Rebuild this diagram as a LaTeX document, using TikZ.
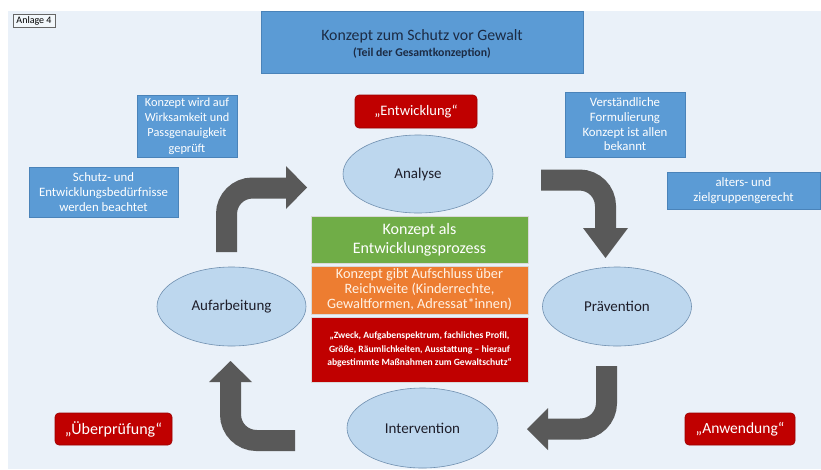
\documentclass[tikz,border=0pt]{standalone}
\usepackage{fontspec}
\setmainfont{Carlito}
\usetikzlibrary{shapes.geometric}
\definecolor{bgc}{HTML}{EAF1F9}
\definecolor{bluebox}{HTML}{5B9BD5}
\definecolor{blueedge}{HTML}{4A83B9}
\definecolor{ellfill}{HTML}{BDD7EE}
\definecolor{elledge}{HTML}{6F8FAF}
\definecolor{greenbox}{HTML}{70AD47}
\definecolor{orangebox}{HTML}{ED7D31}
\definecolor{redbox}{HTML}{C00000}
\definecolor{arrowc}{HTML}{595959}
\definecolor{txtdark}{HTML}{1E1E2A}
\definecolor{titletxt}{HTML}{1C2B44}
\tikzset{
  bluenote/.style={draw=blueedge, line width=0.6pt, fill=bluebox, text=white, align=center, inner sep=0pt, font=\fontsize{12.8}{14.7}\selectfont},
  phase/.style={ellipse, draw=elledge, line width=0.6pt, fill=ellfill, text=txtdark, inner sep=0pt, font=\fontsize{15}{17}\selectfont},
  stage/.style={rounded corners=4pt, draw=red!60!black, line width=0.6pt, fill=redbox, text=white, inner sep=0pt, font=\fontsize{15}{17}\selectfont},
  centerbox/.style={draw=white!70!gray, line width=0.5pt, align=center, inner sep=0pt},
  bigarrow/.style={draw=arrowc, line width=21pt, rounded corners=26pt},
  arrowhead/.style={fill=arrowc}
}
\begin{document}
\begin{tikzpicture}[x=1pt,y=-1pt]
\useasboundingbox (0,0) rectangle (821,469);
\fill[white] (0,0) rectangle (821,469);
\fill[bgc] (8,11) rectangle (821,469);

\node[draw=gray!80!black, line width=0.6pt, fill=white!40!bgc, minimum width=42pt, minimum height=13pt, inner sep=0pt, font=\fontsize{10}{11}\selectfont] (anl) at (34,20.5) {Anlage 4};

\node[draw=blueedge, line width=0.6pt, fill=bluebox, minimum width=322pt, minimum height=62pt, inner sep=0pt] (title) at (422,42) {};
\node[text=titletxt, font=\fontsize{15.8}{17}\selectfont, inner sep=0pt] (t1) at (422,36.5) {Konzept zum Schutz vor Gewalt};
\node[text=titletxt, font=\bfseries\fontsize{11.8}{13}\selectfont, inner sep=0pt] (t2) at (422,53) {(Teil der Gesamtkonzeption)};

\node[stage, minimum width=122pt, minimum height=33pt, font=\fontsize{14.5}{17}\selectfont] (entw) at (416,111.5) {„Entwicklung“};
\node[stage, minimum width=117pt, minimum height=32pt, font=\fontsize{16}{18}\selectfont] (uebp) at (113.5,429) {„Überprüfung“};
\node[stage, minimum width=110pt, minimum height=32pt, font=\fontsize{15.5}{18}\selectfont] (anw) at (740,429) {„Anwendung“};

\node[bluenote, minimum width=100pt, minimum height=62pt, font=\fontsize{12.3}{15.3}\selectfont] (wirk) at (187,126) {Konzept wird auf\\Wirksamkeit und\\Passgenauigkeit\\geprüft};
\node[bluenote, minimum width=149pt, minimum height=50pt] (schutz) at (103.5,192) {Schutz- und\\Entwicklungsbedürfnisse\\werden beachtet};
\node[bluenote, minimum width=120pt, minimum height=65pt] (verst) at (625,124.5) {Verständliche\\Formulierung\\Konzept ist allen\\bekannt};
\node[bluenote, minimum width=153pt, minimum height=37pt] (alters) at (743.5,190.5) {alters- und\\zielgruppengerecht};

\node[phase, minimum width=150pt, minimum height=78pt] (analyse) at (418,174) {Analyse};
\node[phase, minimum width=149pt, minimum height=79pt] (aufarb) at (231.5,306.5) {Aufarbeitung};
\node[phase, minimum width=149pt, minimum height=79pt] (praev) at (617,306.5) {Prävention};
\node[phase, minimum width=151pt, minimum height=80pt] (interv) at (422.5,428) {Intervention};

\node[centerbox, fill=greenbox, text=white, minimum width=217pt, minimum height=47pt, font=\fontsize{16}{19}\selectfont] (green) at (419.5,239.5) {Konzept als\\Entwicklungsprozess};
\node[centerbox, fill=orangebox, text=white!90!orange, minimum width=217pt, minimum height=48pt, font=\fontsize{14.3}{15}\selectfont] (orange) at (419.5,290) {Konzept gibt Aufschluss über\\Reichweite (Kinderrechte,\\Gewaltformen, Adressat*innen)};
\node[centerbox, fill=redbox, text=white, minimum width=217pt, minimum height=65pt, font=\bfseries\fontsize{9.6}{13.5}\selectfont] (red) at (419.5,349.5) {„Zweck, Aufgabenspektrum, fachliches Profil,\\Größe, Räumlichkeiten, Ausstattung – hierauf\\abgestimmte Maßnahmen zum Gewaltschutz“};

% arrows
\coordinate (a1s) at (226.5,252);
\coordinate (a1c) at (226.5,188);
\coordinate (a1e) at (287,188);
\draw[bigarrow] (a1s) -- (a1c) -- (a1e);
\fill[arrowhead] (286,166) -- (307,187.5) -- (286,209) -- cycle;

\coordinate (a2s) at (541,180);
\coordinate (a2c) at (605.5,180);
\coordinate (a2e) at (605.5,229);
\draw[bigarrow] (a2s) -- (a2c) -- (a2e);
\fill[arrowhead] (583,228) -- (605.5,258) -- (628,228) -- cycle;

\coordinate (a3s) at (606.5,366);
\coordinate (a3c) at (606.5,429);
\coordinate (a3e) at (547,429);
\draw[bigarrow] (a3s) -- (a3c) -- (a3e);
\fill[arrowhead] (548,408) -- (527,429) -- (548,450) -- cycle;

\coordinate (a4s) at (295,440.5);
\coordinate (a4c) at (230.5,440.5);
\coordinate (a4e) at (230.5,381);
\draw[bigarrow] (a4s) -- (a4c) -- (a4e);
\fill[arrowhead] (209,382) -- (230.5,361) -- (252,382) -- cycle;
\end{tikzpicture}
\end{document}
